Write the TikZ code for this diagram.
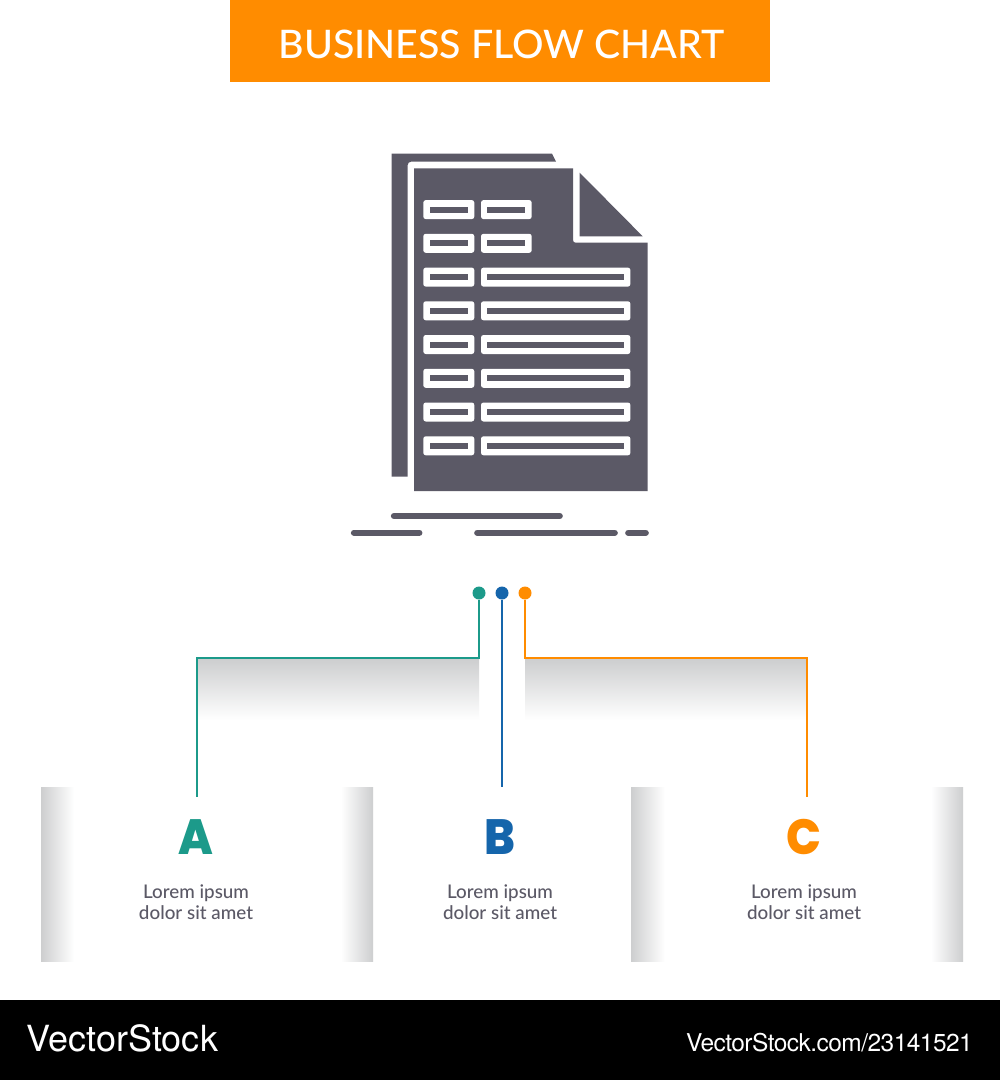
\documentclass[tikz,border=0pt]{standalone}
\usepackage{fontspec}
\setmainfont{Lato Medium}
\newfontfamily\vsfont{TeX Gyre Heros}
\newfontfamily\vstight[LetterSpace=-2.2]{TeX Gyre Heros}
\newfontfamily\letterfont[FakeStretch=0.93]{Poppins ExtraBold}
\definecolor{band}{HTML}{FF8C00}
\definecolor{ink}{HTML}{5B5966}
\definecolor{tealc}{HTML}{1C9A8A}
\definecolor{bluec}{HTML}{1565AB}
\definecolor{orangec}{HTML}{FF8C00}
\definecolor{shade}{HTML}{CDCECF}
\tikzset{
  x=1pt,y=-1pt,
  sheet/.style={fill=ink,draw=none},
  fieldout/.style={fill=white,draw=none,rounded corners=2.5pt},
  rule/.style={draw=ink,line width=6.3pt,line cap=round},
  dot/.style={circle,minimum size=13pt,inner sep=0pt,draw=none},
  wire/.style={line width=1.8pt},
  letter/.style={font=\letterfont\fontsize{49.5}{49.5}\selectfont,anchor=base},
  caption/.style={font=\fontsize{18.8}{21}\selectfont,text=ink,align=center,anchor=base},
}
\newcommand{\fieldrow}[2]{%
  \fill[fieldout] (423.3,#1-9.5) rectangle (474.3,#1+9.5);
  \fill[sheet] (430,#1-3) rectangle (468,#1+3);
  \fill[fieldout] (481,#1-9.5) rectangle (#2+3.2,#1+9.5);
  \fill[sheet] (487.3,#1-3) rectangle (#2-3.2,#1+3);
}
\begin{document}
\begin{tikzpicture}
\useasboundingbox (0,0) rectangle (1000,1080);
\fill[white] (0,0) rectangle (1000,1080);
% title band
\fill[band] (230,0) rectangle (770,82);
\node[text=white,font=\fontsize{39.3}{39.3}\selectfont,anchor=base] (title) at (501.5,58.3) {BUSINESS FLOW CHART};
% icon
\fill[sheet] (391.7,153.5) -- (552,153.5) -- (556,161.7) -- (411,161.7) to[out=180,in=90] (407.7,165) -- (407.7,476.5) -- (391.7,476.5) -- cycle;
\fill[sheet] (414,168.3) -- (573,168.3) -- (573,240) to[out=-90,in=180] (575.5,242.7) -- (647.7,242.7) -- (647.7,491) -- (414,491) -- cycle;
\fill[sheet] (579.7,172.7) -- (642.7,236.3) -- (579.7,236.3) -- cycle;
\fieldrow{209.6}{528.5}
\fieldrow{243.3}{528.5}
\fieldrow{277.1}{627.2}
\fieldrow{310.8}{627.2}
\fieldrow{344.5}{627.2}
\fieldrow{378.3}{627.2}
\fieldrow{412}{627.2}
\fieldrow{445.8}{627.2}
\draw[rule] (394,516) -- (559.7,516);
\draw[rule] (354,532.7) -- (419.3,532.7);
\draw[rule] (477.3,532.7) -- (614.7,532.7);
\draw[rule] (628.3,532.7) -- (645.7,532.7);
% shadows
\shade[top color=shade,bottom color=white] (197,659) rectangle (479,720);
\shade[top color=shade,bottom color=white] (525,659) rectangle (807,720);
\shade[left color=shade,right color=white] (41,787) rectangle (74,961.5);
\shade[left color=white,right color=shade] (341,787) rectangle (373,961.5);
\shade[left color=shade,right color=white] (631,787) rectangle (665,961.5);
\shade[left color=white,right color=shade] (931,787) rectangle (963,961.5);
% connectors
\node[dot,fill=tealc] (dotA) at (479,593) {};
\node[dot,fill=bluec] (dotB) at (502,593) {};
\node[dot,fill=orangec] (dotC) at (525,593) {};
\coordinate (endA) at (197,797);
\coordinate (endB) at (502,787);
\coordinate (endC) at (807,797);
\coordinate (bendA) at (479,658);
\coordinate (bendC) at (525,658);
\draw[wire,tealc] (dotA) -- (bendA) -| (endA);
\draw[wire,bluec] (dotB) -- (endB);
\draw[wire,orangec] (dotC) -- (bendC) -| (endC);
% labels
\node[letter,text=tealc] (letterA) at (196,854) {A};
\node[letter,text=bluec] (letterB) at (500,854) {B};
\node[letter,text=orangec] (letterC) at (804,854) {C};
\node[caption] (capA) at (196,919) {Lorem ipsum\\dolor sit amet};
\node[caption] (capB) at (500,919) {Lorem ipsum\\dolor sit amet};
\node[caption] (capC) at (804,919) {Lorem ipsum\\dolor sit amet};
% footer
\fill[black] (0,1000) rectangle (1000,1080);
\node[text=white,font=\vsfont\fontsize{36}{36}\selectfont,anchor=base west,inner sep=0pt] (brand) at (26.5,1051.5) {VectorStock};
\node[text=white,font=\vstight\fontsize{24.5}{24.5}\selectfont,anchor=base east,inner sep=0pt] (ref) at (973,1051) {VectorStock.com/23141521};
\end{tikzpicture}
\end{document}
